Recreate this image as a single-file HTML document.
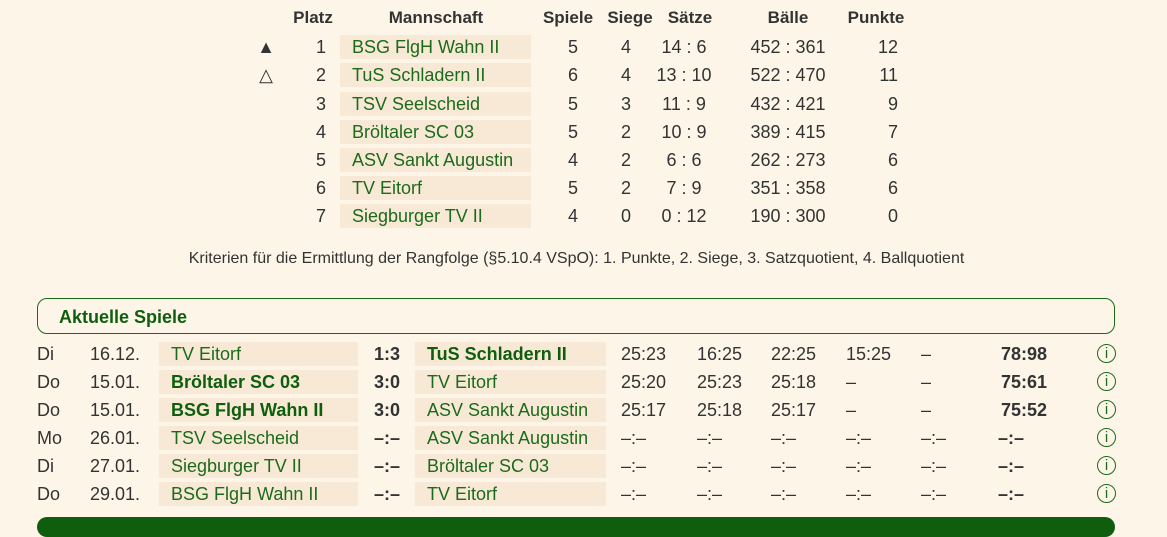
<!DOCTYPE html>
<html><head><meta charset="utf-8"><style>
body{margin:0;width:1167px;height:522px;background:#fdf5e8;font-family:"Liberation Sans",sans-serif;color:#333;overflow:hidden;position:relative}
.r{position:absolute;left:0;width:1167px;height:28px;font-size:18px;line-height:28px}
.r span{position:absolute;white-space:nowrap}
.c{transform:translateX(-50%)}
.rt{transform:translateX(-100%)}
.cell{position:absolute;background:#f8e9d6;top:2px;height:24px}
.g{color:#1c6b1c}
.b{font-weight:bold}
.gb{color:#0e5e0e;font-weight:bold}
.h{font-weight:bold;color:#333;font-size:17px}
.info{width:17px;height:17px;border:1.6px solid #1c6b1c;border-radius:50%;color:#1c6b1c;font-size:15px;line-height:17px;text-align:center;top:4px;box-sizing:content-box}
</style></head><body>

<div class="r" style="top:4px"><span class="h c" style="left:313px">Platz</span><span class="h c" style="left:436px">Mannschaft</span><span class="h c" style="left:568px">Spiele</span><span class="h c" style="left:630px">Siege</span><span class="h c" style="left:690px">Sätze</span><span class="h c" style="left:788px">Bälle</span><span class="h c" style="left:876px">Punkte</span></div>

<div class="r" style="top:33px"><span class="c" style="left:266px">▲</span><span class="rt" style="left:326px">1</span><div class="cell" style="left:340px;width:191px"></div><span class="g" style="left:352px">BSG FlgH Wahn II</span><span class="c" style="left:573px">5</span><span class="c" style="left:626px">4</span><span class="c" style="left:684px">14 : 6</span><span class="c" style="left:788px">452 : 361</span><span class="rt" style="left:898px">12</span></div>
<div class="r" style="top:61px"><span class="c" style="left:266px">△</span><span class="rt" style="left:326px">2</span><div class="cell" style="left:340px;width:191px"></div><span class="g" style="left:352px">TuS Schladern II</span><span class="c" style="left:573px">6</span><span class="c" style="left:626px">4</span><span class="c" style="left:684px">13 : 10</span><span class="c" style="left:788px">522 : 470</span><span class="rt" style="left:898px">11</span></div>
<div class="r" style="top:90px"><span class="rt" style="left:326px">3</span><div class="cell" style="left:340px;width:191px"></div><span class="g" style="left:352px">TSV Seelscheid</span><span class="c" style="left:573px">5</span><span class="c" style="left:626px">3</span><span class="c" style="left:684px">11 : 9</span><span class="c" style="left:788px">432 : 421</span><span class="rt" style="left:898px">9</span></div>
<div class="r" style="top:118px"><span class="rt" style="left:326px">4</span><div class="cell" style="left:340px;width:191px"></div><span class="g" style="left:352px">Bröltaler SC 03</span><span class="c" style="left:573px">5</span><span class="c" style="left:626px">2</span><span class="c" style="left:684px">10 : 9</span><span class="c" style="left:788px">389 : 415</span><span class="rt" style="left:898px">7</span></div>
<div class="r" style="top:146px"><span class="rt" style="left:326px">5</span><div class="cell" style="left:340px;width:191px"></div><span class="g" style="left:352px">ASV Sankt Augustin</span><span class="c" style="left:573px">4</span><span class="c" style="left:626px">2</span><span class="c" style="left:684px">6 : 6</span><span class="c" style="left:788px">262 : 273</span><span class="rt" style="left:898px">6</span></div>
<div class="r" style="top:174px"><span class="rt" style="left:326px">6</span><div class="cell" style="left:340px;width:191px"></div><span class="g" style="left:352px">TV Eitorf</span><span class="c" style="left:573px">5</span><span class="c" style="left:626px">2</span><span class="c" style="left:684px">7 : 9</span><span class="c" style="left:788px">351 : 358</span><span class="rt" style="left:898px">6</span></div>
<div class="r" style="top:202px"><span class="rt" style="left:326px">7</span><div class="cell" style="left:340px;width:191px"></div><span class="g" style="left:352px">Siegburger TV II</span><span class="c" style="left:573px">4</span><span class="c" style="left:626px">0</span><span class="c" style="left:684px">0 : 12</span><span class="c" style="left:788px">190 : 300</span><span class="rt" style="left:898px">0</span></div>

<div style="position:absolute;top:249px;left:0;width:1153px;text-align:center;font-size:16px;line-height:20px;color:#333">Kriterien für die Ermittlung der Rangfolge (§5.10.4 VSpO): 1. Punkte, 2. Siege, 3. Satzquotient, 4. Ballquotient</div>

<div style="position:absolute;left:37px;top:298px;width:1076px;height:34px;border:1px solid #1c6b1c;border-radius:10px"></div>
<div style="position:absolute;left:59px;top:305px;font-size:18px;line-height:24px;font-weight:bold;color:#0e5e0e">Aktuelle Spiele</div>

<div class="r" style="top:340px"><span style="left:37px">Di</span><span style="left:90px">16.12.</span><div class="cell" style="left:159px;width:199px"></div><span class="g" style="left:171px">TV Eitorf</span><span class="b c" style="left:387px">1:3</span><div class="cell" style="left:415px;width:191px"></div><span class="gb" style="left:427px">TuS Schladern II</span><span style="left:621px">25:23</span><span style="left:697px">16:25</span><span style="left:771px">22:25</span><span style="left:846px">15:25</span><span style="left:921px">–</span><span class="b rt" style="left:1047px">78:98</span><span class="info" style="left:1097px">i</span></div>
<div class="r" style="top:368px"><span style="left:37px">Do</span><span style="left:90px">15.01.</span><div class="cell" style="left:159px;width:199px"></div><span class="gb" style="left:171px">Bröltaler SC 03</span><span class="b c" style="left:387px">3:0</span><div class="cell" style="left:415px;width:191px"></div><span class="g" style="left:427px">TV Eitorf</span><span style="left:621px">25:20</span><span style="left:697px">25:23</span><span style="left:771px">25:18</span><span style="left:846px">–</span><span style="left:921px">–</span><span class="b rt" style="left:1047px">75:61</span><span class="info" style="left:1097px">i</span></div>
<div class="r" style="top:396px"><span style="left:37px">Do</span><span style="left:90px">15.01.</span><div class="cell" style="left:159px;width:199px"></div><span class="gb" style="left:171px">BSG FlgH Wahn II</span><span class="b c" style="left:387px">3:0</span><div class="cell" style="left:415px;width:191px"></div><span class="g" style="left:427px">ASV Sankt Augustin</span><span style="left:621px">25:17</span><span style="left:697px">25:18</span><span style="left:771px">25:17</span><span style="left:846px">–</span><span style="left:921px">–</span><span class="b rt" style="left:1047px">75:52</span><span class="info" style="left:1097px">i</span></div>
<div class="r" style="top:424px"><span style="left:37px">Mo</span><span style="left:90px">26.01.</span><div class="cell" style="left:159px;width:199px"></div><span class="g" style="left:171px">TSV Seelscheid</span><span class="b c" style="left:387px">–:–</span><div class="cell" style="left:415px;width:191px"></div><span class="g" style="left:427px">ASV Sankt Augustin</span><span style="left:621px">–:–</span><span style="left:697px">–:–</span><span style="left:771px">–:–</span><span style="left:846px">–:–</span><span style="left:921px">–:–</span><span class="b rt" style="left:1024px">–:–</span><span class="info" style="left:1097px">i</span></div>
<div class="r" style="top:452px"><span style="left:37px">Di</span><span style="left:90px">27.01.</span><div class="cell" style="left:159px;width:199px"></div><span class="g" style="left:171px">Siegburger TV II</span><span class="b c" style="left:387px">–:–</span><div class="cell" style="left:415px;width:191px"></div><span class="g" style="left:427px">Bröltaler SC 03</span><span style="left:621px">–:–</span><span style="left:697px">–:–</span><span style="left:771px">–:–</span><span style="left:846px">–:–</span><span style="left:921px">–:–</span><span class="b rt" style="left:1024px">–:–</span><span class="info" style="left:1097px">i</span></div>
<div class="r" style="top:480px"><span style="left:37px">Do</span><span style="left:90px">29.01.</span><div class="cell" style="left:159px;width:199px"></div><span class="g" style="left:171px">BSG FlgH Wahn II</span><span class="b c" style="left:387px">–:–</span><div class="cell" style="left:415px;width:191px"></div><span class="g" style="left:427px">TV Eitorf</span><span style="left:621px">–:–</span><span style="left:697px">–:–</span><span style="left:771px">–:–</span><span style="left:846px">–:–</span><span style="left:921px">–:–</span><span class="b rt" style="left:1024px">–:–</span><span class="info" style="left:1097px">i</span></div>

<div style="position:absolute;left:37px;top:517px;width:1078px;height:20px;background:#0e5e0e;border-radius:10px"></div>
</body></html>
